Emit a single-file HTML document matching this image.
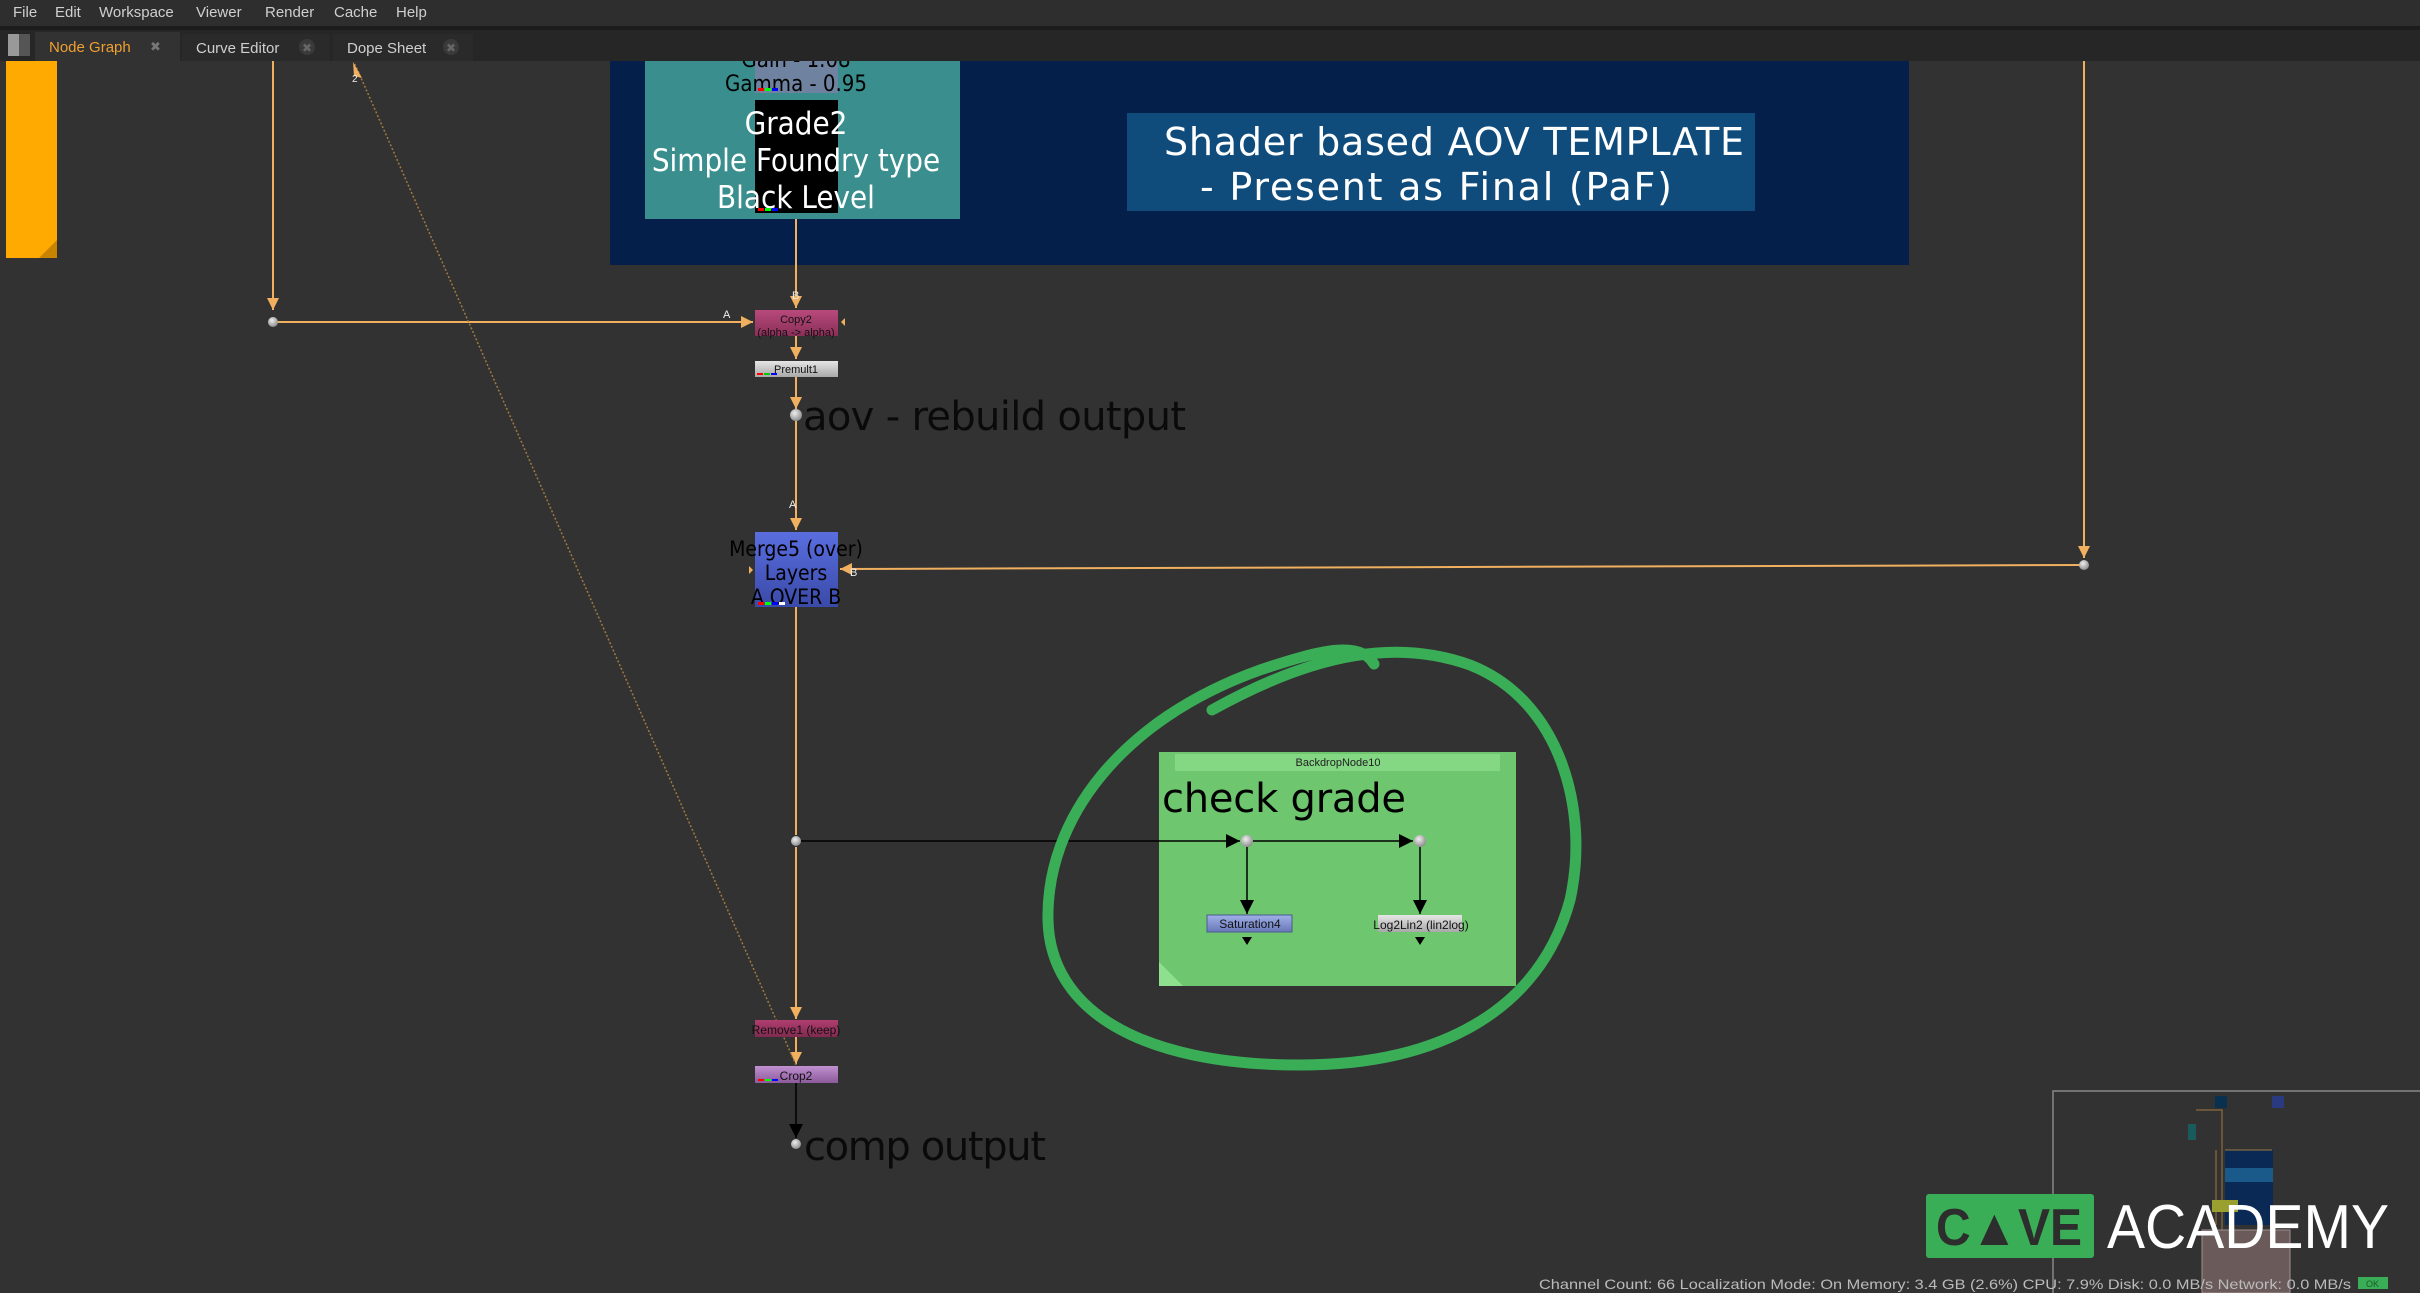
<!DOCTYPE html>
<html><head><meta charset="utf-8"><style>
body{margin:0;width:2420px;height:1293px;overflow:hidden;background:#323232;font-family:"Liberation Sans","DejaVu Sans",sans-serif;}
svg{display:block}
</style></head><body>
<svg width="2420" height="1293" xmlns="http://www.w3.org/2000/svg" font-family="Liberation Sans, DejaVu Sans, sans-serif">
<defs>
<marker id="ao" viewBox="0 0 10 10" refX="10" refY="5" markerWidth="12" markerHeight="12" markerUnits="userSpaceOnUse" orient="auto"><path d="M0,0L10,5L0,10z" fill="#f0b060"/></marker>
<marker id="ab" viewBox="0 0 10 10" refX="10" refY="5" markerWidth="14" markerHeight="14" markerUnits="userSpaceOnUse" orient="auto"><path d="M0,0L10,5L0,10z" fill="#000"/></marker>
<linearGradient id="gcopy" x1="0" y1="0" x2="0" y2="1"><stop offset="0" stop-color="#b84a7c"/><stop offset="1" stop-color="#8a2f58"/></linearGradient>
<linearGradient id="gprem" x1="0" y1="0" x2="0" y2="1"><stop offset="0" stop-color="#e6e6e6"/><stop offset="1" stop-color="#a8a8a8"/></linearGradient>
<linearGradient id="gmerge" x1="0" y1="0" x2="0" y2="1"><stop offset="0" stop-color="#5a6ee0"/><stop offset="1" stop-color="#3a4aa8"/></linearGradient>
<linearGradient id="gsat" x1="0" y1="0" x2="0" y2="1"><stop offset="0" stop-color="#a0b0e8"/><stop offset="1" stop-color="#6878b8"/></linearGradient>
<linearGradient id="grem" x1="0" y1="0" x2="0" y2="1"><stop offset="0" stop-color="#b03e70"/><stop offset="1" stop-color="#802a50"/></linearGradient>
<linearGradient id="gcrop" x1="0" y1="0" x2="0" y2="1"><stop offset="0" stop-color="#c090d0"/><stop offset="1" stop-color="#8a5a9a"/></linearGradient>
<radialGradient id="dot" cx="0.4" cy="0.35" r="0.7"><stop offset="0" stop-color="#eee"/><stop offset="1" stop-color="#888"/></radialGradient>
</defs>

<!-- orange backdrop -->
<rect x="6" y="61" width="51" height="197" fill="#ffaa00"/>
<path d="M57,240 L57,258 L39,258z" fill="#c88400"/>

<!-- navy backdrop -->
<rect x="610" y="61" width="1299" height="204" fill="#04204a"/>
<rect x="645" y="61" width="315" height="158" fill="#3a8e8e"/>
<rect x="755" y="55" width="83" height="38" fill="#6f82a0"/>
<rect x="755" y="100" width="83" height="113" fill="#000"/>
<g fill="#000" font-size="22" text-anchor="middle" font-family="DejaVu Sans Condensed, DejaVu Sans, sans-serif"><text x="796" y="67">Gain - 1.08</text><text x="796" y="91">Gamma - 0.95</text></g>
<rect x="758" y="88" width="6" height="3" fill="#f00"/><rect x="765" y="88" width="6" height="3" fill="#0f0"/><rect x="772" y="88" width="6" height="3" fill="#00f"/>
<g fill="#fff" font-size="31" text-anchor="middle" font-family="DejaVu Sans Condensed, DejaVu Sans, sans-serif"><text x="796" y="134">Grade2</text><text x="796" y="171">Simple Foundry type</text><text x="796" y="208">Black Level</text></g>
<rect x="758" y="208" width="6" height="3" fill="#f00"/><rect x="765" y="208" width="6" height="3" fill="#0f0"/><rect x="772" y="208" width="6" height="3" fill="#00f"/>
<rect x="1127" y="113" width="628" height="98" fill="#0f4c7c"/>
<g fill="#fff" font-size="38" font-family="DejaVu Sans, sans-serif"><text x="1164" y="155" textLength="580">Shader based AOV TEMPLATE</text><text x="1200" y="200" textLength="472">- Present as Final  (PaF)</text></g>

<!-- orange connectors -->
<g stroke="#f0b060" stroke-width="2" fill="none">
<line x1="273" y1="61" x2="273" y2="310" marker-end="url(#ao)"/>
<line x1="273" y1="322" x2="753" y2="322" marker-end="url(#ao)"/>
<line x1="796" y1="219" x2="796" y2="308" marker-end="url(#ao)"/>
<line x1="796" y1="336" x2="796" y2="359" marker-end="url(#ao)"/>
<line x1="796" y1="377" x2="796" y2="409" marker-end="url(#ao)"/>
<line x1="796" y1="421" x2="796" y2="530" marker-end="url(#ao)"/>
<line x1="2084" y1="61" x2="2084" y2="558" marker-end="url(#ao)"/>
<line x1="2084" y1="565" x2="840" y2="569" marker-end="url(#ao)"/>
<line x1="796" y1="607" x2="796" y2="835"/>
<line x1="796" y1="847" x2="796" y2="1019" marker-end="url(#ao)"/>
<line x1="796" y1="1037" x2="796" y2="1064" marker-end="url(#ao)"/>
</g>
<line x1="796" y1="1065" x2="354" y2="62" stroke="#a07a40" stroke-width="1.5" stroke-dasharray="2,2"/>
<path d="M353,62 L362,78 L354,76z" fill="#f0b060"/>
<text x="352" y="82" font-size="10" fill="#eee">2</text>
<g fill="#eee" font-size="11"><text x="723" y="318">A</text><text x="792" y="299">B</text><text x="789" y="508">A</text><text x="850" y="576">B</text></g>
<circle cx="273" cy="322" r="5" fill="url(#dot)"/>
<circle cx="2084" cy="565" r="5" fill="url(#dot)"/>

<!-- Copy2 -->
<rect x="755" y="310" width="83" height="26" fill="url(#gcopy)"/>
<g font-size="11" fill="#111" text-anchor="middle"><text x="796" y="323">Copy2</text><text x="796" y="336">(alpha -&gt; alpha)</text></g>
<path d="M845,318 L841,322 L845,326z" fill="#f0b060"/>
<!-- Premult -->
<rect x="755" y="361" width="83" height="16" fill="url(#gprem)"/>
<text x="796" y="373" font-size="11" fill="#111" text-anchor="middle">Premult1</text>
<rect x="757" y="373" width="6" height="2" fill="#f00"/><rect x="764" y="373" width="6" height="2" fill="#0c0"/><rect x="771" y="373" width="6" height="2" fill="#00f"/>
<circle cx="796" cy="415" r="6" fill="url(#dot)"/>
<text x="803" y="430" font-size="40" fill="#0a0a0a" font-family="DejaVu Sans, sans-serif" textLength="383">aov - rebuild output</text>

<!-- Merge5 -->
<rect x="755" y="532" width="83" height="75" fill="url(#gmerge)"/>
<g font-size="21" fill="#000" text-anchor="middle" font-family="DejaVu Sans Condensed, DejaVu Sans, sans-serif"><text x="796" y="556">Merge5 (over)</text><text x="796" y="580">Layers</text><text x="796" y="604">A OVER B</text></g>
<rect x="758" y="602" width="6" height="3" fill="#f00"/><rect x="765" y="602" width="6" height="3" fill="#0f0"/><rect x="772" y="602" width="6" height="3" fill="#00f"/><rect x="779" y="602" width="6" height="3" fill="#fff"/>
<path d="M749,566 L753,570 L749,574z" fill="#f0b060"/>

<!-- green backdrop -->
<rect x="1159" y="752" width="357" height="234" fill="#6ec66e"/>
<rect x="1175" y="754" width="325" height="17" fill="#84d884"/>
<text x="1338" y="766" font-size="11" fill="#222" text-anchor="middle">BackdropNode10</text>
<text x="1162" y="812" font-size="40" fill="#000" font-family="DejaVu Sans, sans-serif" textLength="244">check grade</text>
<path d="M1159,962 L1159,986 L1183,986z" fill="#8ee08e"/>

<!-- black connectors -->
<g stroke="#000" stroke-width="1.5" fill="none">
<line x1="796" y1="841" x2="1240" y2="841" marker-end="url(#ab)"/>
<line x1="1253" y1="841" x2="1413" y2="841" marker-end="url(#ab)"/>
<line x1="1247" y1="846" x2="1247" y2="914" marker-end="url(#ab)"/>
<line x1="1420" y1="846" x2="1420" y2="914" marker-end="url(#ab)"/>
<line x1="796" y1="1083" x2="796" y2="1138" marker-end="url(#ab)"/>
</g>
<circle cx="796" cy="841" r="5" fill="url(#dot)"/>
<circle cx="1247" cy="841" r="6" fill="url(#dot)"/>
<circle cx="1420" cy="841" r="6" fill="url(#dot)"/>
<rect x="1207" y="915" width="85" height="17" fill="url(#gsat)" stroke="#4a5a90" stroke-width="1"/>
<text x="1250" y="928" font-size="12" fill="#111" text-anchor="middle">Saturation4</text>
<rect x="1378" y="915" width="84" height="17" fill="url(#gprem)"/>
<text x="1421" y="929" font-size="12" fill="#111" text-anchor="middle">Log2Lin2 (lin2log)</text>
<path d="M1242,937 L1252,937 L1247,945z" fill="#000"/><path d="M1415,937 L1425,937 L1420,945z" fill="#000"/>

<!-- hand drawn circle -->
<path d="M1212,710 C1320,650 1400,640 1470,665 C1560,700 1590,810 1570,900 C1540,1010 1440,1065 1300,1065 C1140,1065 1050,1010 1048,920 C1046,820 1120,720 1260,670 C1320,650 1360,640 1374,664" fill="none" stroke="#3aad57" stroke-width="11" stroke-linecap="round"/>

<!-- Remove1 / Crop2 -->
<rect x="755" y="1020" width="83" height="17" fill="url(#grem)"/>
<text x="796" y="1034" font-size="12" fill="#111" text-anchor="middle">Remove1 (keep)</text>
<rect x="755" y="1066" width="83" height="17" fill="url(#gcrop)"/>
<text x="796" y="1080" font-size="12" fill="#111" text-anchor="middle">Crop2</text>
<rect x="758" y="1079" width="6" height="2" fill="#f00"/><rect x="765" y="1079" width="6" height="2" fill="#0f0"/><rect x="772" y="1079" width="6" height="2" fill="#00f"/>
<circle cx="796" cy="1144" r="5" fill="url(#dot)"/>
<text x="804" y="1160" font-size="40" fill="#0a0a0a" font-family="DejaVu Sans, sans-serif" textLength="242">comp output</text>

<!-- minimap -->
<path d="M2053,1293 L2053,1091 L2420,1091" fill="none" stroke="#888" stroke-width="1.5"/>
<rect x="2215" y="1096" width="12" height="12" fill="#0a3050"/><rect x="2272" y="1096" width="12" height="12" fill="#2a3a80"/>
<rect x="2225" y="1150" width="48" height="75" fill="#0a2a55"/><rect x="2225" y="1168" width="48" height="14" fill="#1a5a8a"/>
<rect x="2202" y="1230" width="88" height="63" fill="#6a5a5a" stroke="#a09090"/>
<path d="M2196,1110 L2222,1110 L2222,1230" fill="none" stroke="#a07a40"/>
<path d="M2216,1150 L2216,1225 M2225,1150 L2272,1150" fill="none" stroke="#a07a40"/>
<rect x="2188" y="1124" width="8" height="16" fill="#1a5a5a"/>
<rect x="2212" y="1200" width="26" height="12" fill="#9aa030"/>

<!-- logo -->
<rect x="1926" y="1194" width="168" height="64" rx="3" fill="#3aad57"/>
<text x="1936" y="1245" font-size="52" font-weight="bold" fill="#2d2d2d" textLength="146" lengthAdjust="spacingAndGlyphs">C▲VE</text>
<text x="2107" y="1248" font-size="62" fill="#fff" textLength="282" lengthAdjust="spacingAndGlyphs">ACADEMY</text>

<!-- status -->
<text x="1539" y="1289" font-size="14" fill="#bbb" textLength="812" lengthAdjust="spacingAndGlyphs">Channel Count: 66  Localization Mode: On  Memory: 3.4 GB (2.6%) CPU: 7.9% Disk: 0.0 MB/s Network: 0.0 MB/s</text>
<rect x="2358" y="1277" width="30" height="12" fill="#3aad57"/>
<text x="2366" y="1287" font-size="9" fill="#1a5a2a">OK</text>

<!-- menu bar -->
<rect x="0" y="0" width="2420" height="26" fill="#2e2e2e"/>
<g fill="#cfcfcf" font-size="15">
<text x="13" y="17">File</text><text x="55" y="17">Edit</text><text x="99" y="17">Workspace</text>
<text x="196" y="17">Viewer</text><text x="265" y="17">Render</text><text x="334" y="17">Cache</text><text x="396" y="17">Help</text>
</g>
<rect x="0" y="26" width="2420" height="4" fill="#1c1c1c"/>
<!-- tab bar -->
<rect x="0" y="30" width="2420" height="31" fill="#262626"/>
<rect x="8" y="34" width="22" height="22" fill="#555"/><rect x="8" y="34" width="11" height="22" fill="#999"/>
<rect x="35" y="32" width="145" height="29" fill="#323232"/>
<text x="49" y="52" font-size="15" fill="#f0a030">Node Graph</text>
<text x="150" y="51" font-size="13" fill="#777">✖</text>
<rect x="182" y="34" width="148" height="27" fill="#2a2a2a"/>
<text x="196" y="53" font-size="15" fill="#cfcfcf">Curve Editor</text>
<circle cx="307" cy="47" r="8" fill="#3a3a3a"/><text x="302" y="52" font-size="12" fill="#666">✖</text>
<rect x="333" y="34" width="140" height="27" fill="#2a2a2a"/>
<text x="347" y="53" font-size="15" fill="#cfcfcf">Dope Sheet</text>
<circle cx="451" cy="47" r="8" fill="#3a3a3a"/><text x="446" y="52" font-size="12" fill="#666">✖</text>
</svg>
</body></html>
